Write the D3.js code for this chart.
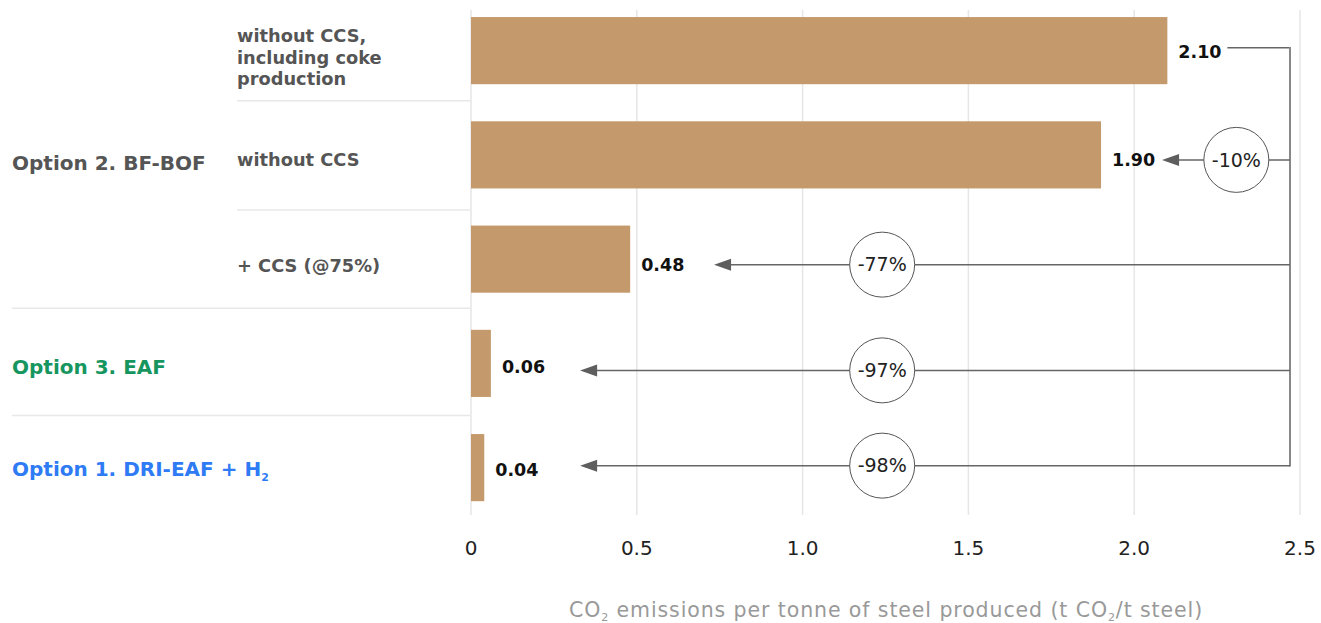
<!DOCTYPE html>
<html>
<head>
<meta charset="utf-8">
<script src="https://cdn.jsdelivr.net/npm/d3@7"></script>
<style>
  body { margin: 0; background: #fff; }
  svg { display: block; font-family: "DejaVu Sans", sans-serif; }
</style>
</head>
<body>
<div id="chart"></div>
<script>
// data
const rowIds = ["r1", "r2", "r3", "r4", "r5"];
const groupLabels = ["Option 2. BF-BOF", "Option 3. EAF", "Option 1. DRI-EAF + H"];
const groupColors = ["#555555", "#16965e", "#2f7bf5"];
const subLabels = [["without CCS,", "including coke", "production"], ["without CCS"], ["+ CCS (@75%)"], [], []];
const values = [2.10, 1.90, 0.48, 0.06, 0.04];
const valueLabels = ["2.10", "1.90", "0.48", "0.06", "0.04"];
const changeLabels = [null, "-10%", "-77%", "-97%", "-98%"];
const xTicks = [0, 0.5, 1.0, 1.5, 2.0, 2.5];

const W = 1321, H = 623;
const svg = d3.select("#chart").append("svg").attr("width", W).attr("height", H);

const x = d3.scaleLinear().domain([0, 2.5]).range([471, 1300]);
const y = d3.scaleBand().domain(rowIds).range([-1.5, 519.75]).paddingInner(0.356).paddingOuter(0.178);
const cy = i => y(rowIds[i]) + y.bandwidth() / 2;

// gridlines
svg.append("g").selectAll("line").data(xTicks).join("line")
  .attr("x1", d => x(d)).attr("x2", d => x(d))
  .attr("y1", 10).attr("y2", 515)
  .attr("stroke", "#e6e6e6").attr("stroke-width", 1.5);

// row separators
const sepStart = [237, 237, 12, 12];
const sepOff = [-2, 3, -3, 0];
svg.append("g").selectAll("line").data(sepStart).join("line")
  .attr("x1", d => d).attr("x2", 470)
  .attr("y1", (d, i) => (cy(i) + cy(i + 1)) / 2 + sepOff[i])
  .attr("y2", (d, i) => (cy(i) + cy(i + 1)) / 2 + sepOff[i])
  .attr("stroke", "#e8e8e8").attr("stroke-width", 1.5);

// bars
svg.append("g").selectAll("rect").data(values).join("rect")
  .attr("x", x(0)).attr("y", (d, i) => y(rowIds[i]))
  .attr("width", d => x(d) - x(0)).attr("height", y.bandwidth())
  .attr("fill", "#c49a6c");

// value labels
const labY = [1, 5, 5.5, 3, 2];
svg.append("g").selectAll("text").data(values).join("text")
  .attr("x", d => x(d) + 11)
  .attr("y", (d, i) => cy(i) + labY[i])
  .attr("dy", "0.36em")
  .attr("font-size", 17.5).attr("font-weight", 700).attr("fill", "#111")
  .text((d, i) => valueLabels[i]);

// sub labels
const subY = [6.5, 5, 6];
subLabels.forEach((lines, i) => {
  if (!lines.length) return;
  const t = svg.append("text").attr("x", 237)
    .attr("font-size", 17.8).attr("font-weight", 700).attr("fill", "#555");
  const y0 = cy(i) + subY[i] - (lines.length - 1) * 21.5 / 2;
  lines.forEach((l, k) => t.append("tspan").attr("x", 237).attr("y", y0 + k * 21.5).attr("dy", "0.36em").text(l));
});

// group labels
const groupRows = [1, 3, 4];
const groupOff = [8, 3, 1];
groupLabels.forEach((g, k) => {
  const t = svg.append("text").attr("x", 12).attr("y", cy(groupRows[k]) + groupOff[k]).attr("dy", "0.36em")
    .attr("font-size", 20).attr("font-weight", 700).attr("fill", groupColors[k]).text(g);
  if (k === 2) t.append("tspan").attr("font-size", 11).attr("dy", "0.45em").text("2");
});

// connectors
const lineX = 1290;
const arrY = [-3, 5, 5.5, 7, -2];
const arrowTip = [null, x(2.084), x(0.733), x(0.329), x(0.329)];
const circleX = [null, x(2.308), x(1.24), x(1.24), x(1.24)];
const arrowY = i => cy(i) + arrY[i];
const conn = svg.append("g");
conn.append("line").attr("x1", x(values[0]) + 60).attr("x2", lineX)
  .attr("y1", arrowY(0)).attr("y2", arrowY(0))
  .attr("stroke", "#666").attr("stroke-width", 1.5);
conn.append("line").attr("x1", lineX).attr("x2", lineX)
  .attr("y1", arrowY(0) - 0.75).attr("y2", arrowY(4) + 0.75)
  .attr("stroke", "#888").attr("stroke-width", 2);
[1, 2, 3, 4].forEach(i => {
  const yy = arrowY(i);
  conn.append("line").attr("x1", arrowTip[i] + 14).attr("x2", lineX)
    .attr("y1", yy).attr("y2", yy).attr("stroke", "#666").attr("stroke-width", 1.5);
  conn.append("path")
    .attr("d", `M${arrowTip[i]},${yy} L${arrowTip[i] + 17},${yy - 6} L${arrowTip[i] + 17},${yy + 6} Z`)
    .attr("fill", "#5e5e5e");
  conn.append("circle").attr("cx", circleX[i]).attr("cy", yy).attr("r", 32.5)
    .attr("fill", "#fff").attr("stroke", "#555").attr("stroke-width", 1);
  conn.append("text").attr("x", circleX[i]).attr("y", yy).attr("dy", "0.36em")
    .attr("text-anchor", "middle").attr("font-size", 19).attr("fill", "#222")
    .text(changeLabels[i]);
});

// x axis labels
svg.append("g").selectAll("text").data(xTicks).join("text")
  .attr("x", d => x(d)).attr("y", 548).attr("dy", "0.36em")
  .attr("text-anchor", "middle")
  .attr("font-size", 20).attr("fill", "#222")
  .text(d => d === 0 ? "0" : d3.format(".1f")(d));

const title = svg.append("text").attr("x", 886).attr("y", 617)
  .attr("text-anchor", "middle")
  .attr("font-size", 20.5).attr("letter-spacing", 0.9).attr("fill", "#999");
title.append("tspan").text("CO");
title.append("tspan").attr("font-size", 11).attr("dy", 4).text("2");
title.append("tspan").attr("dy", -4).text(" emissions per tonne of steel produced (t CO");
title.append("tspan").attr("font-size", 11).attr("dy", 4).text("2");
title.append("tspan").attr("dy", -4).text("/t steel)");
</script>
</body>
</html>
